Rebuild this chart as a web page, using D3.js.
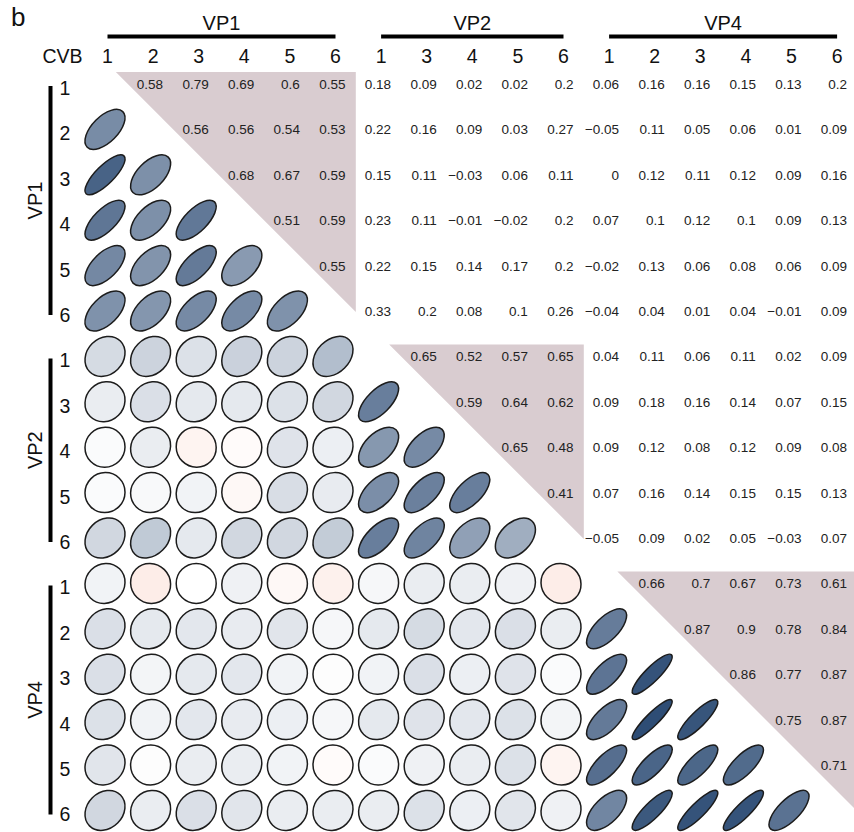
<!DOCTYPE html>
<html>
<head>
<meta charset="utf-8">
<script src="https://cdn.jsdelivr.net/npm/d3@7"></script>
<style>
  html, body { margin: 0; padding: 0; background: #ffffff; }
  svg { display: block; font-family: "Liberation Sans", Arial, Helvetica, sans-serif; }
</style>
</head>
<body>
<svg id="chart" width="854" height="832"></svg>
<script>
// Variable groups and their CVB item labels
const groupNames = ["VP1", "VP2", "VP4"];
const vp1Items = ["1", "2", "3", "4", "5", "6"];
const vp2Items = ["1", "3", "4", "5", "6"];
const vp4Items = ["1", "2", "3", "4", "5", "6"];

// Upper-triangle correlations, one array per row (columns to the right of the diagonal)
const rowVP1_1 = [0.58, 0.79, 0.69, 0.6, 0.55, 0.18, 0.09, 0.02, 0.02, 0.2, 0.06, 0.16, 0.16, 0.15, 0.13, 0.2];
const rowVP1_2 = [0.56, 0.56, 0.54, 0.53, 0.22, 0.16, 0.09, 0.03, 0.27, -0.05, 0.11, 0.05, 0.06, 0.01, 0.09];
const rowVP1_3 = [0.68, 0.67, 0.59, 0.15, 0.11, -0.03, 0.06, 0.11, 0, 0.12, 0.11, 0.12, 0.09, 0.16];
const rowVP1_4 = [0.51, 0.59, 0.23, 0.11, -0.01, -0.02, 0.2, 0.07, 0.1, 0.12, 0.1, 0.09, 0.13];
const rowVP1_5 = [0.55, 0.22, 0.15, 0.14, 0.17, 0.2, -0.02, 0.13, 0.06, 0.08, 0.06, 0.09];
const rowVP1_6 = [0.33, 0.2, 0.08, 0.1, 0.26, -0.04, 0.04, 0.01, 0.04, -0.01, 0.09];
const rowVP2_1 = [0.65, 0.52, 0.57, 0.65, 0.04, 0.11, 0.06, 0.11, 0.02, 0.09];
const rowVP2_3 = [0.59, 0.64, 0.62, 0.09, 0.18, 0.16, 0.14, 0.07, 0.15];
const rowVP2_4 = [0.65, 0.48, 0.09, 0.12, 0.08, 0.12, 0.09, 0.08];
const rowVP2_5 = [0.41, 0.07, 0.16, 0.14, 0.15, 0.15, 0.13];
const rowVP2_6 = [-0.05, 0.09, 0.02, 0.05, -0.03, 0.07];
const rowVP4_1 = [0.66, 0.7, 0.67, 0.73, 0.61];
const rowVP4_2 = [0.87, 0.9, 0.78, 0.84];
const rowVP4_3 = [0.86, 0.77, 0.87];
const rowVP4_4 = [0.75, 0.87];
const rowVP4_5 = [0.71];

const upperRows = [rowVP1_1, rowVP1_2, rowVP1_3, rowVP1_4, rowVP1_5, rowVP1_6,
                   rowVP2_1, rowVP2_3, rowVP2_4, rowVP2_5, rowVP2_6,
                   rowVP4_1, rowVP4_2, rowVP4_3, rowVP4_4, rowVP4_5, []];

// Flat variable list
const groupItems = [vp1Items, vp2Items, vp4Items];
const vars = [];
groupItems.forEach((items, g) => items.forEach(it => vars.push({ group: g, label: it })));
const n = vars.length;

// Full symmetric matrix
const R = d3.range(n).map(() => new Array(n).fill(1));
upperRows.forEach((row, i) => row.forEach((v, k) => {
  const j = i + 1 + k;
  R[i][j] = v;
  R[j][i] = v;
}));

const svg = d3.select("#chart");

const x = d3.scaleBand().domain(d3.range(n)).range([82.2, 82.2 + n * 45.6]).padding(0);
const y = d3.scaleBand().domain(d3.range(n)).range([61.3, 61.3 + n * 45.4]).padding(0);
const cx = i => x(i) + x.bandwidth() / 2;
const cy = i => y(i) + y.bandwidth() / 2;

const color = d3.scaleLinear()
  .domain([-1, -0.2, 0, 1])
  .range(["#b2182b", "#f5b8a4", "#ffffff", "#173966"])
  .interpolate(d3.interpolateRgb)
  .clamp(true);

// Group index ranges
const groupRanges = groupItems.map((items, g) => {
  const idx = d3.range(n).filter(i => vars[i].group === g);
  return [idx[0], idx[idx.length - 1]];
});

// Shaded within-group triangles in the upper half
svg.append("g").selectAll("path")
  .data(groupRanges)
  .join("path")
  .attr("d", ([a, b]) => {
    const right = x(b) + x.bandwidth();
    const top = cy(a) - 12;
    const bottom = cy(b) + 1;
    const left = right - (bottom - top);
    return `M${left},${top}L${right},${top}L${right},${bottom}Z`;
  })
  .attr("fill", "#d9ccd0");

// Correlation values above the diagonal
const fmt = v => (v < 0 ? "\u2212" : "") + String(Math.abs(v));
const upperCells = [];
for (let i = 0; i < n; i++) for (let j = i + 1; j < n; j++) upperCells.push({ i, j, v: R[i][j] });

svg.append("g").selectAll("text")
  .data(upperCells)
  .join("text")
  .attr("x", d => cx(d.j) + 12.5)
  .attr("y", d => cy(d.i) + 4.9)
  .attr("text-anchor", "end")
  .attr("font-size", 13.5)
  .attr("fill", "#222")
  .text(d => fmt(d.v));

// Ellipses below the diagonal
const lowerCells = [];
for (let i = 0; i < n; i++) for (let j = 0; j < i; j++) lowerCells.push({ i, j, v: R[i][j] });

const rad = 20;
svg.append("g").selectAll("ellipse")
  .data(lowerCells)
  .join("ellipse")
  .attr("transform", d => `translate(${cx(d.j)},${cy(d.i)}) rotate(-45)`)
  .attr("rx", d => rad * Math.sqrt(1 + d.v))
  .attr("ry", d => rad * Math.sqrt(1 - d.v))
  .attr("fill", d => color(d.v))
  .attr("stroke", "#1c1c1c")
  .attr("stroke-width", 1.5);

// Column labels
const hx = i => cx(i) + 2.5;
svg.append("g").selectAll("text")
  .data(vars)
  .join("text")
  .attr("x", (d, i) => hx(i))
  .attr("y", 63.3)
  .attr("text-anchor", "middle")
  .attr("font-size", 19.5)
  .attr("fill", "#111")
  .text(d => d.label);

svg.append("text")
  .attr("x", 42.5).attr("y", 63.3)
  .attr("font-size", 19.5).attr("fill", "#111")
  .text("CVB");

// Row labels
svg.append("g").selectAll("text")
  .data(vars)
  .join("text")
  .attr("x", 59.5)
  .attr("y", (d, i) => cy(i) + 11)
  .attr("font-size", 19.5)
  .attr("fill", "#111")
  .text(d => d.label);

// Group brackets on top
const topG = svg.append("g");
groupRanges.forEach(([a, b], g) => {
  topG.append("line")
    .attr("x1", hx(a)).attr("x2", hx(b))
    .attr("y1", 36.5).attr("y2", 36.5)
    .attr("stroke", "#000").attr("stroke-width", 4);
  topG.append("text")
    .attr("x", (hx(a) + hx(b)) / 2).attr("y", 30)
    .attr("text-anchor", "middle")
    .attr("font-size", 20).attr("fill", "#111")
    .text(groupNames[g]);
});

// Group brackets on the left
const leftG = svg.append("g");
groupRanges.forEach(([a, b], g) => {
  const y1 = cy(a) + 2, y2 = cy(b) + 4;
  leftG.append("line")
    .attr("x1", 50.5).attr("x2", 50.5)
    .attr("y1", y1).attr("y2", y2)
    .attr("stroke", "#000").attr("stroke-width", 4);
  leftG.append("text")
    .attr("transform", `translate(41.5,${(y1 + y2) / 2}) rotate(-90)`)
    .attr("text-anchor", "middle")
    .attr("font-size", 20).attr("fill", "#111")
    .text(groupNames[g]);
});

// Panel letter
svg.append("text")
  .attr("x", 11).attr("y", 26)
  .attr("font-size", 26).attr("fill", "#111")
  .text("b");
</script>
</body>
</html>
